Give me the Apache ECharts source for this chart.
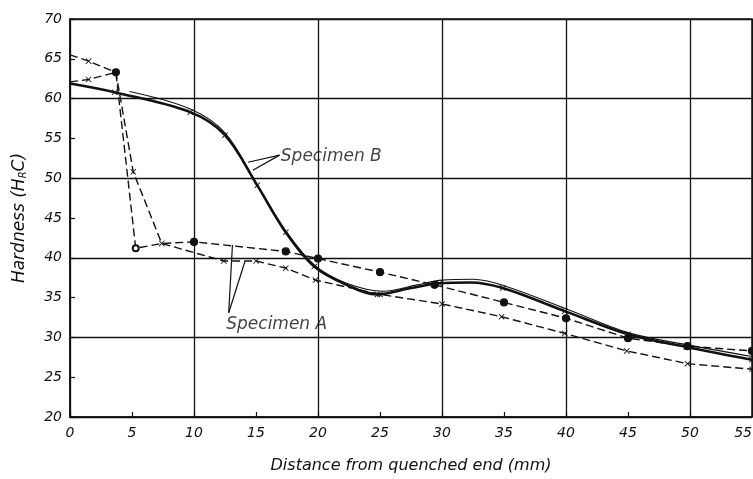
<!DOCTYPE html>
<html>
<head>
<meta charset="utf-8">
<script src="https://cdn.jsdelivr.net/npm/echarts@6/dist/echarts.min.js"></script>
<style>html,body{margin:0;padding:0;background:#fff}#c{width:753px;height:479px}</style>
</head>
<body>
<div id="c"></div>
<script>
// ---- data ----
const xTickLabels = [0, 5, 10, 15, 20, 25, 30, 35, 40, 45, 50, 55];
const yTickLabels = [20, 25, 30, 35, 40, 45, 50, 55, 60, 65, 70];

// Specimen A, traverse 1 (dashed, dots)
const aDotsX = [0, 1.5, 3.7, 5.3, 7.4, 10, 17.4, 20, 25, 29.4, 35, 40, 45, 49.8, 55];
const aDotsY = [62.1, 62.4, 63.3, 41.2, 41.8, 42.0, 40.8, 39.9, 38.2, 36.6, 34.4, 32.4, 29.9, 28.9, 28.3];
const aDotsMarks = ['none', 'x', 'dot', 'ring', 'none', 'dot', 'dot', 'dot', 'dot', 'dot', 'dot', 'dot', 'dot', 'dot', 'dot'];

// Specimen A, traverse 2 (dashed, crosses)
const aCrossX = [0, 1.5, 3.7, 5.1, 7.4, 12.4, 15, 17.4, 19.8, 25, 30, 34.8, 39.9, 44.9, 49.8, 55];
const aCrossY = [65.5, 64.7, 63.3, 50.8, 41.8, 39.6, 39.6, 38.7, 37.2, 35.4, 34.2, 32.6, 30.5, 28.3, 26.7, 26.0];
const aCrossMarks = ['none', 'x', 'none', 'x', 'x', 'x', 'x', 'x', 'x', 'x', 'x', 'x', 'x', 'x', 'x', 'x'];

// Specimen B, traverse 1 (solid, heavy)
const bHeavyX = [0, 3.6, 9.7, 12.5, 15.1, 17.4, 19.7, 22.3, 24.8, 27.5, 29.8, 32.3, 34.9, 39.9, 45, 49.7, 55];
const bHeavyY = [61.9, 60.8, 58.3, 55.4, 49.1, 43.2, 38.9, 36.6, 35.4, 36.2, 36.8, 36.9, 36.2, 33.3, 30.4, 28.8, 27.2];
const bHeavyMarks = ['none', 'x', 'x', 'x', 'x', 'x', 'x', 'none', 'x', 'none', 'x', 'none', 'x', 'x', 'x', 'x', 'x'];

// Specimen B, traverse 2 (solid, light)
const bLightX = [4.8, 9.7, 12.5, 15, 17.4, 19.7, 22.3, 25.3, 28, 30, 32.5, 35, 40, 45, 50, 55];
const bLightY = [60.9, 58.7, 55.7, 49.4, 43.4, 39.1, 36.8, 35.8, 36.6, 37.2, 37.3, 36.5, 33.6, 30.6, 29.0, 27.6];

// annotations
const labelA = {text: 'Specimen A', x: 12.6, y: 31.6};
const labelB = {text: 'Specimen B', x: 17.0, y: 52.7};
const leaderA = [[[12.8, 33.1], [13.1, 41.6]], [[12.8, 33.1], [14.1, 39.5]]];
const leaderB = [[[16.9, 52.9], [14.35, 52.0]], [[16.9, 52.9], [14.75, 51.0]]];

// ---- chart ----
const INK = '#111111';
const FONT = 'DejaVu Sans';
const CROSS = 'path://M0,1 L1,0 L5,4 L9,0 L10,1 L6,5 L10,9 L9,10 L5,6 L1,10 L0,9 L4,5 Z';

function zip(xs, ys) { return xs.map((x, i) => [x, ys[i]]); }
function withMarks(xs, ys, marks) {
  return xs.map((x, i) => {
    const m = marks[i];
    const item = {value: [x, ys[i]]};
    if (m === 'none') item.symbol = 'none';
    else if (m === 'x') { item.symbol = CROSS; item.symbolSize = 6; item.itemStyle = {borderWidth: 0}; }
    else if (m === 'dot') { item.symbol = 'circle'; item.symbolSize = 7; }
    else if (m === 'ring') { item.symbol = 'emptyCircle'; item.symbolSize = 6; }
    return item;
  });
}

const series = [
  {
    type: 'line', name: 'A1', data: withMarks(aDotsX, aDotsY, aDotsMarks),
    lineStyle: {color: INK, width: 1.4, type: [8, 4]},
    itemStyle: {color: INK, borderColor: INK, borderWidth: 1.2},
    showAllSymbol: true, z: 3
  },
  {
    type: 'line', name: 'A2', data: withMarks(aCrossX, aCrossY, aCrossMarks),
    lineStyle: {color: INK, width: 1.4, type: [8, 4]},
    itemStyle: {color: INK, borderWidth: 0},
    showAllSymbol: true, z: 3
  },
  {
    type: 'line', name: 'B1', data: withMarks(bHeavyX, bHeavyY, bHeavyMarks), smooth: 0.35,
    lineStyle: {color: INK, width: 2.6},
    itemStyle: {color: INK, borderWidth: 0},
    showAllSymbol: true, z: 4
  },
  {
    type: 'line', name: 'B2', data: zip(bLightX, bLightY), smooth: 0.35, symbol: 'none',
    lineStyle: {color: INK, width: 1.1}, z: 4
  }
];

[...leaderA, ...leaderB].forEach(seg => {
  series.push({type: 'line', data: seg, symbol: 'none', silent: true,
    lineStyle: {color: INK, width: 1.2}, z: 5});
});

[labelA, labelB].forEach(l => {
  series.push({type: 'scatter', data: [[l.x, l.y]], symbolSize: 0, silent: true,
    label: {show: true, position: 'right', distance: 0, formatter: l.text,
      color: INK, fontFamily: FONT, fontStyle: 'italic', fontSize: 17}, z: 6});
});

const chart = echarts.init(document.getElementById('c'), null, {renderer: 'canvas'});
chart.setOption({
  animation: false,
  backgroundColor: '#fff',
  grid: {left: 70, right: 1, top: 19, bottom: 62, show: true, borderColor: INK, borderWidth: 1.5,
    backgroundColor: 'transparent', containLabel: false, outerBoundsMode: 'none'},
  xAxis: [
    {
      type: 'value', min: 0, max: 55, interval: 5,
      name: 'Distance from quenched end (mm)', nameLocation: 'middle', nameGap: 41,
      nameTextStyle: {color: INK, fontFamily: FONT, fontStyle: 'italic', fontSize: 16},
      axisLine: {show: true, lineStyle: {color: INK, width: 1.5}},
      axisTick: {show: true, inside: true, length: 5, lineStyle: {color: INK, width: 1.2}},
      axisLabel: {color: INK, fontFamily: FONT, fontStyle: 'italic', fontSize: 14, margin: 9,
        alignMaxLabel: 'right',
        formatter: v => (xTickLabels.indexOf(v) >= 0 ? String(v) : '')},
      splitLine: {show: false}
    },
    {
      type: 'value', min: 0, max: 55, interval: 10, position: 'top',
      axisLine: {show: false}, axisTick: {show: false}, axisLabel: {show: false},
      splitLine: {show: true, lineStyle: {color: INK, width: 1.3}}
    }
  ],
  yAxis: [
    {
      type: 'value', min: 20, max: 70, interval: 5,
      name: 'Hardness (H{s|R}C)', nameLocation: 'middle', nameGap: 42, nameRotate: 90,
      nameTextStyle: {color: INK, fontFamily: FONT, fontStyle: 'italic', fontSize: 17,
        rich: {s: {fontFamily: FONT, fontStyle: 'italic', fontSize: 10, color: INK, verticalAlign: 'bottom', padding: [6, 0, 0, 0]}}},
      axisLine: {show: true, lineStyle: {color: INK, width: 1.5}},
      axisTick: {show: true, inside: true, length: 5, lineStyle: {color: INK, width: 1.2}},
      axisLabel: {color: INK, fontFamily: FONT, fontStyle: 'italic', fontSize: 14, margin: 8,
        formatter: v => (yTickLabels.indexOf(v) >= 0 ? String(v) : '')},
      splitLine: {show: false}
    },
    {
      type: 'value', min: 20, max: 70, interval: 10, position: 'right',
      axisLine: {show: false}, axisTick: {show: false}, axisLabel: {show: false},
      splitLine: {show: true, lineStyle: {color: INK, width: 1.3}}
    }
  ],
  series: series
});
</script>
</body>
</html>
